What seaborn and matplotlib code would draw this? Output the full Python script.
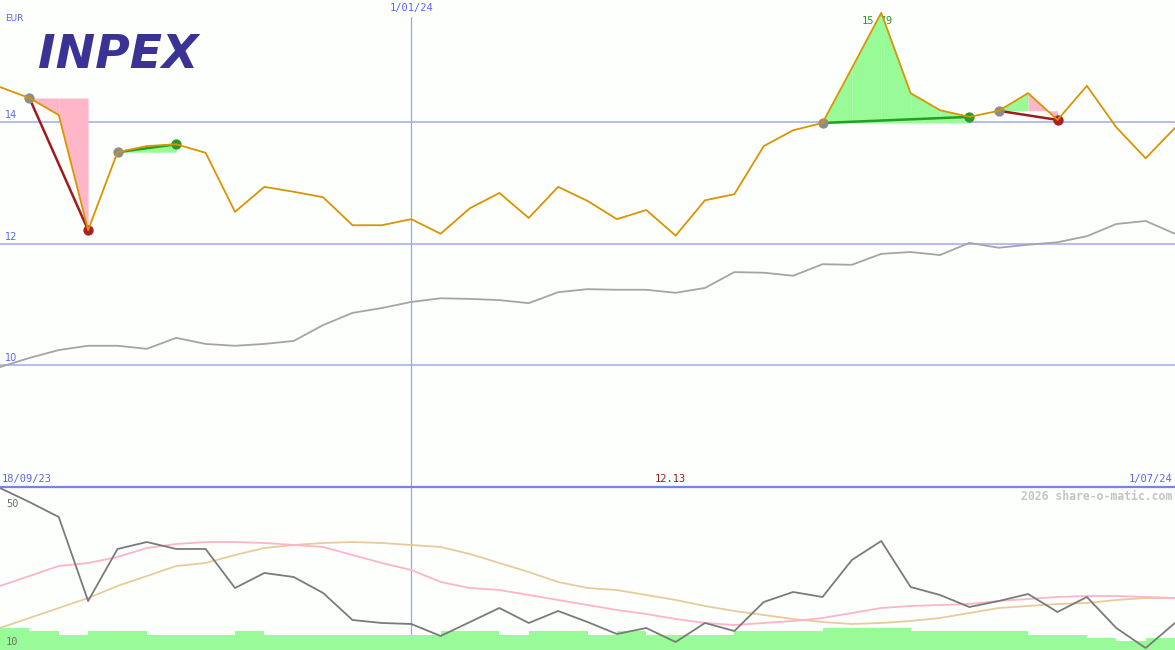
import matplotlib
matplotlib.use('Agg')
import matplotlib.pyplot as plt
import seaborn as sns
import numpy as np

# weekly closes in EUR, first point 18/09/23, last 1/07/24
price = [14.57, 14.39, 14.11, 12.22, 13.50, 13.60, 13.63, 13.49, 12.52, 12.93,
         12.85, 12.76, 12.30, 12.30, 12.40, 12.16, 12.58, 12.83, 12.42, 12.93,
         12.70, 12.40, 12.55, 12.13, 12.71, 12.81, 13.60, 13.86, 13.98, 14.88,
         15.79, 14.47, 14.19, 14.08, 14.18, 14.47, 14.03, 14.59, 13.91, 13.40,
         13.90]

# long moving average (grey)
ma_long = [9.97, 10.12, 10.25, 10.32, 10.32, 10.27, 10.45, 10.35, 10.32, 10.35,
           10.40, 10.66, 10.86, 10.94, 11.04, 11.10, 11.09, 11.07, 11.02, 11.20,
           11.25, 11.24, 11.24, 11.19, 11.27, 11.53, 11.52, 11.47, 11.66, 11.65,
           11.83, 11.86, 11.81, 12.01, 11.93, 11.98, 12.02, 12.12, 12.32, 12.37,
           12.16]

# lower panel oscillator + its two smoothings
osc = [49.75, 46.32, 42.64, 22.02, 34.79, 36.50, 34.79, 34.79, 25.21, 28.90,
       27.91, 23.99, 17.36, 16.63, 16.38, 13.44, 16.87, 20.31, 16.63, 19.57,
       16.87, 13.93, 15.40, 11.96, 16.63, 14.66, 21.78, 24.23, 23.01, 32.09,
       36.75, 25.46, 23.50, 20.55, 22.02, 23.74, 19.33, 23.01, 15.40, 10.49,
       16.63]
osc_fast = [25.71, 28.16, 30.61, 31.35, 32.82, 35.03, 36.01, 36.50, 36.50, 36.26,
            35.77, 35.28, 33.31, 31.35, 29.63, 26.69, 25.21, 24.72, 23.50, 22.27,
            21.04, 19.82, 18.83, 17.61, 16.63, 16.13, 16.63, 17.12, 17.85, 19.08,
            20.31, 20.80, 21.04, 21.29, 22.02, 22.52, 23.01, 23.25, 23.25, 23.01,
            22.76]
osc_slow = [15.40, 17.85, 20.31, 22.76, 25.71, 28.16, 30.61, 31.35, 33.31, 35.03,
            35.77, 36.26, 36.50, 36.26, 35.77, 35.28, 33.56, 31.35, 29.14, 26.69,
            25.21, 24.72, 23.50, 22.27, 20.80, 19.57, 18.59, 17.61, 16.87, 16.38,
            16.63, 17.12, 17.85, 19.08, 20.31, 20.80, 21.29, 21.53, 22.27, 22.76,
            22.76]
# step bars, one per week interval
osc_bars = [15.40, 14.66, 13.68, 14.66, 14.66, 13.68, 13.68, 13.68, 14.66, 13.68,
            13.68, 13.68, 13.68, 13.68, 13.68, 14.66, 14.66, 13.68, 14.66, 14.66,
            13.68, 14.66, 13.68, 13.68, 13.68, 14.66, 14.66, 14.66, 15.40, 15.40,
            15.40, 14.66, 14.66, 14.66, 14.66, 13.68, 13.68, 12.94, 12.21, 12.94]

# trade signals (week index)
buy_idx = [1, 4, 28, 34]
sell_idx = [3, 6, 33, 36]

date_labels = ['18/09/23', '1/01/24', '1/07/24']
date_pos = [0, 14, 40]
price_ticks = [14, 12, 10]
osc_ticks = [50, 10]

BG = '#fdfffd'
BLUE_TXT = '#5a64f0'
GRID = '#a6b2f2'
GREEN_FILL = '#98fb98'
PINK_FILL = '#ffb6c8'

sns.set_theme(style='white')
plt.rcParams['font.family'] = ['DejaVu Sans Mono', 'DejaVu Sans']

x = np.arange(len(price))

fig = plt.figure(figsize=(11.75, 6.5), dpi=100, facecolor=BG)
ax1 = fig.add_axes([0, 163 / 650, 1, 487 / 650])
ax2 = fig.add_axes([0, 0, 1, 163 / 650])
for ax in (ax1, ax2):
    ax.set_facecolor(BG)
    for sp in ax.spines.values():
        sp.set_visible(False)
    ax.set_xticks([])
    ax.set_yticks([])
    ax.set_xlim(0, len(price) - 1)
ax1.set_ylim(8, 16)
ax2.set_ylim(10, 50)

# ---- top panel
for t in price_ticks:
    ax1.axhline(t, color=GRID, lw=1.2, zorder=0.6)
    ax1.annotate(str(t), xy=(0, t), xytext=(5, 2), textcoords='offset pixels',
                 ha='left', va='bottom', fontsize=7, color=BLUE_TXT, family='DejaVu Sans')
ax1.axvline(date_pos[1], ymax=1 - 17 / 487, color='#95a4fa', lw=0.9, zorder=0.6)
ax2.axvline(date_pos[1], color='#95a4fa', lw=0.9, zorder=0.6)

for b, s in zip(buy_idx, sell_idx):
    entry = price[b]
    for j in range(b, s):
        col = GREEN_FILL if price[j + 1] >= entry else PINK_FILL
        ax1.fill_between([j, j + 1], [price[j], price[j + 1]], entry, color=col, lw=0, zorder=1)
    won = price[s] >= entry
    sns.lineplot(x=[b, s], y=[entry, price[s]], ax=ax1, color='#22a022' if won else '#a01a1a',
                 lw=1.8, zorder=2)
    ax1.scatter([b], [entry], s=55, color='#8c8c8c', zorder=3, lw=0)
    ax1.scatter([s], [price[s]], s=55, color='#2a9a2a' if won else '#a82020', zorder=3, lw=0)

sns.lineplot(x=x, y=ma_long, ax=ax1, color='#a4a4a4', lw=1.3, zorder=2)
sns.lineplot(x=x, y=price, ax=ax1, color='#d99400', lw=1.3, zorder=4)

imax = int(np.argmax(price))
imin = int(np.argmin(price))
ax1.annotate('%.2f' % price[imax], xy=(imax, price[imax]), xytext=(-4, -3),
             textcoords='offset pixels', ha='center', va='top', fontsize=7.5,
             color='#2a9a2a', zorder=0.7)
ax1.annotate('%.2f' % price[imin], xy=(imin, 8), xytext=(-5, 3),
             textcoords='offset pixels', ha='center', va='bottom', fontsize=7.5,
             color='#a01a1a')

ax1.annotate('EUR', xy=(0, 1), xycoords='axes fraction', xytext=(5, -14),
             textcoords='offset pixels', ha='left', va='top', fontsize=6.5,
             color=BLUE_TXT, family='DejaVu Sans')
ax1.annotate(date_labels[1], xy=(date_pos[1], 1), xycoords=('data', 'axes fraction'),
             xytext=(0, -3), textcoords='offset pixels', ha='center', va='top',
             fontsize=7.5, color=BLUE_TXT)
ax1.annotate(date_labels[0], xy=(date_pos[0], 8), xytext=(2, 3), textcoords='offset pixels',
             ha='left', va='bottom', fontsize=7.5, color=BLUE_TXT)
ax1.annotate(date_labels[2], xy=(date_pos[2], 8), xytext=(-3, 3), textcoords='offset pixels',
             ha='right', va='bottom', fontsize=7.5, color=BLUE_TXT)

# logo
fig.text(38 / 1175, 1 - 68 / 650, 'INPEX', ha='left', va='baseline', fontsize=34,
         fontweight='heavy', style='italic', color='#3b3394', family='DejaVu Sans')

# ---- lower panel
ax2.bar(x[:-1], osc_bars, width=1, align='edge', color=GREEN_FILL, lw=0, zorder=1)
sns.lineplot(x=x, y=osc_slow, ax=ax2, color='#e6cc9a', lw=1.3, zorder=2)
sns.lineplot(x=x, y=osc_fast, ax=ax2, color='#ffb4c8', lw=1.3, zorder=2)
sns.lineplot(x=x, y=osc, ax=ax2, color='#7a7a7a', lw=1.3, zorder=3)

ax2.annotate(str(osc_ticks[0]), xy=(0, 1), xycoords='axes fraction', xytext=(6, -12),
             textcoords='offset pixels', ha='left', va='top', fontsize=7.5, color='#707070')
ax2.annotate(str(osc_ticks[1]), xy=(0, 0), xycoords='axes fraction', xytext=(6, 3),
             textcoords='offset pixels', ha='left', va='bottom', fontsize=7.5, color='#707070',
             zorder=5)
ax2.annotate('2026 share-o-matic.com', xy=(1, 1), xycoords='axes fraction', xytext=(-3, -3),
             textcoords='offset pixels', ha='right', va='top', fontsize=8.3,
             fontweight='bold', color='#c4c4c4')

# separator between panels
fig.add_artist(plt.Line2D([0, 1], [1 - 487 / 650] * 2, color='#7384ee', lw=1.6))

fig.savefig('out.png', dpi=100, facecolor=BG)
